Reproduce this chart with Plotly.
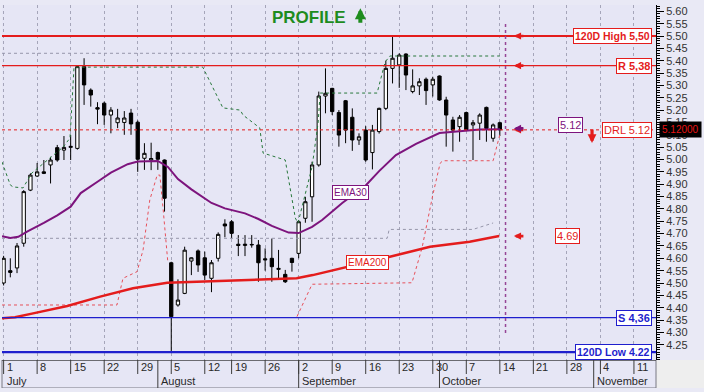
import plotly.graph_objects as go

W, H = 704, 392
FONT = "Liberation Sans, Arial, sans-serif"

# ---------------- data (trading-day index: 0 = 1 July) ----------------
day = list(range(75))
opens = [4.500, 4.550, 4.561, 4.661, 4.876, 4.933, 4.950, 4.978, 5.048, 5.038,
         5.049, 5.045, 5.376, 5.281, 5.210, 5.228, 5.180, 5.149, 5.150, 5.188,
         5.151, 5.005, 4.998, 5.028, 4.998, 4.582, 4.411, 4.458, 4.589, 4.630,
         4.602, 4.519, 4.600, 4.739, 4.748, 4.657, 4.652, 4.654, 4.654, 4.598,
         4.600, 4.555, 4.535, 4.600, 4.620, 4.762, 4.849, 4.978, 5.257, 5.288,
         5.190, 5.238, 5.171, 5.079, 5.119, 5.028, 5.113, 5.207, 5.369, 5.383,
         5.427, 5.275, 5.298, 5.325, 5.302, 5.338, 5.241, 5.160, 5.133, 5.190,
         5.140, 5.147, 5.211, 5.086, 5.149]
highs = [4.610, 4.600, 4.662, 4.876, 4.944, 4.986, 4.998, 5.011, 5.059, 5.095,
         5.099, 5.380, 5.410, 5.288, 5.232, 5.234, 5.212, 5.205, 5.196, 5.205,
         5.158, 5.066, 5.068, 5.032, 5.000, 4.586, 4.515, 4.647, 4.604, 4.636,
         4.627, 4.593, 4.705, 4.758, 4.755, 4.694, 4.694, 4.694, 4.674, 4.640,
         4.680, 4.634, 4.553, 4.602, 4.755, 4.849, 4.991, 5.275, 5.369, 5.290,
         5.200, 5.241, 5.207, 5.106, 5.135, 5.140, 5.210, 5.400, 5.497, 5.430,
         5.430, 5.365, 5.329, 5.332, 5.335, 5.340, 5.254, 5.173, 5.180, 5.194,
         5.160, 5.187, 5.214, 5.146, 5.153]
lows = [4.490, 4.523, 4.540, 4.647, 4.872, 4.929, 4.941, 4.903, 4.991, 4.998,
        4.998, 5.040, 5.221, 5.214, 5.143, 5.140, 5.106, 5.127, 5.100, 5.100,
        4.950, 4.958, 4.957, 4.958, 4.789, 4.222, 4.404, 4.455, 4.532, 4.545,
        4.512, 4.463, 4.587, 4.685, 4.681, 4.609, 4.609, 4.643, 4.505, 4.550,
        4.505, 4.520, 4.500, 4.546, 4.600, 4.744, 4.748, 4.971, 5.187, 5.180,
        5.052, 5.066, 5.035, 5.059, 4.991, 4.960, 5.105, 5.200, 5.308, 5.290,
        5.281, 5.268, 5.261, 5.221, 5.255, 5.238, 5.052, 5.032, 5.072, 5.115,
        4.998, 5.079, 5.072, 5.072, 5.095]
closes = [4.600, 4.543, 4.650, 4.870, 4.937, 4.950, 4.944, 4.998, 4.998, 5.049,
          5.053, 5.376, 5.302, 5.261, 5.204, 5.180, 5.200, 5.168, 5.168, 5.144,
          5.001, 5.025, 5.004, 5.001, 4.843, 4.364, 4.431, 4.633, 4.602, 4.573,
          4.532, 4.582, 4.697, 4.731, 4.701, 4.652, 4.657, 4.656, 4.582, 4.594,
          4.566, 4.559, 4.505, 4.583, 4.748, 4.829, 4.978, 5.257, 5.268, 5.194,
          5.099, 5.119, 5.079, 5.092, 4.998, 5.119, 5.207, 5.369, 5.410, 5.423,
          5.342, 5.298, 5.315, 5.279, 5.325, 5.241, 5.180, 5.119, 5.171, 5.120,
          5.149, 5.180, 5.126, 5.140, 5.120]

ema30_x = [-0.24, 1, 2.2, 3.5, 6, 8, 10, 11.5, 14, 16, 18.5, 20, 23, 24.5, 26, 28, 31, 33,
           36, 38, 40, 42.5, 44, 46, 47.5, 49, 50.5, 54, 56, 58.5, 61.5, 65, 68, 71, 74]
ema30_y = [4.689, 4.682, 4.687, 4.708, 4.743, 4.774, 4.809, 4.864, 4.910, 4.947, 4.981,
           4.992, 4.994, 4.970, 4.921, 4.879, 4.824, 4.802, 4.782, 4.759, 4.731, 4.704,
           4.702, 4.727, 4.755, 4.791, 4.824, 4.895, 4.953, 5.018, 5.063, 5.107, 5.113,
           5.121, 5.122]

ema200_x = [-0.24, 1.7, 4.4, 9.5, 14.4, 19.3, 24.4, 29.3, 35.3, 39.7, 43.7, 46.1, 51.2,
            57.6, 63.6, 69.5, 73.9]
ema200_y = [4.357, 4.361, 4.377, 4.407, 4.445, 4.479, 4.501, 4.505, 4.512, 4.516, 4.519,
            4.532, 4.564, 4.606, 4.647, 4.667, 4.690]

stop_hi_x = [-0.24, 1, 1.4, 2.9, 4.2, 6.5, 8.9, 9.9, 10.5, 29.7, 32.7, 35.3, 35.7, 38.2,
             38.7, 42, 43.5, 43.9, 44.9, 46, 46.9, 47.2, 55.7, 56.9, 57.6, 74]
stop_hi_y = [4.990, 4.897, 4.889, 4.885, 4.945, 4.998, 5.051, 5.087, 5.374, 5.374, 5.209,
             5.200, 5.180, 5.128, 5.026, 4.998, 4.763, 4.743, 4.848, 4.970, 5.148, 5.269,
             5.269, 5.395, 5.419, 5.419]

stop_lo_x = [-0.24, 16.9, 17.8, 19.9, 20.8, 21.8, 22.9, 23.3, 23.8, 24.4, 24.5, None,
             43.75, 46, 60.9, 62.4, 64, 65.1, 65.5, 73, 74.1]
stop_lo_y = [4.411, 4.411, 4.519, 4.546, 4.634, 4.836, 4.937, 4.937, 4.796, 4.613, 4.581,
             None, 4.364, 4.495, 4.501, 4.642, 4.856, 4.985, 4.995, 4.995, 5.111]

band_hi_x = [-0.24, 56.6]
band_hi_y = [5.430, 5.430]
band_lo_x = [-0.24, 57.2, 57.5, 70, 73]
band_lo_y = [4.681, 4.681, 4.717, 4.717, 4.743]

high_120d = 5.50
resist = 5.38
drl = 5.12
support = 4.36
low_120d = 4.22
ema30_last = 5.12
ema200_last = 4.69
last_price = 5.12

week_ticks = [0, 5, 10, 15, 20, 25, 30, 34, 39, 44, 49, 54, 59, 64, 69, 74, 79, 84, 89, 94]
week_labels = ['1', '8', '15', '22', '29', '5', '12', '19', '26', '2', '9', '16', '23',
               '30', '7', '14', '21', '28', '4', '11']
month_starts = [0, 23, 44, 65, 88]
month_names = ['July', 'August', 'September', 'October', 'November']

price_ticks = [4.25, 4.30, 4.35, 4.40, 4.45, 4.50, 4.55, 4.60, 4.65, 4.70, 4.75, 4.80,
               4.85, 4.90, 4.95, 5.00, 5.05, 5.10, 5.15, 5.20, 5.25, 5.30, 5.35, 5.40,
               5.45, 5.50, 5.55, 5.60]
price_labels = ['4.25', '4.30', '4.35', '4.40', '4.45', '4.50', '4.55', '4.60', '4.65',
                '4.70', '4.75', '4.80', '4.85', '4.90', '4.95', '5.00', '5.05', '5.10',
                '5.15', '5.20', '5.25', '5.30', '5.35', '5.40', '5.45', '5.50', '5.55',
                '5.60']

# ---------------- layout geometry ----------------
X_RANGE = [-0.24, 97.29]
Y_RANGE = [4.1883, 5.6255]
XDOM = [2 / W, 656 / W]
YDOM = [(H - 360) / H, (H - 5) / H]
BDOM = [(H - 388) / H, (H - 360) / H]

RED = 'rgb(228,28,28)'
BLUE = 'rgb(30,30,205)'
PURPLE = 'rgb(125,20,125)'
GREEN = 'rgb(40,120,60)'

fig = go.Figure()

fig.add_trace(go.Scatter(x=band_hi_x, y=band_hi_y, mode='lines',
                         line=dict(color='rgb(150,150,170)', width=1, dash='dot'),
                         hoverinfo='skip', showlegend=False))
fig.add_trace(go.Scatter(x=band_lo_x, y=band_lo_y, mode='lines',
                         line=dict(color='rgb(150,150,170)', width=1, dash='dot'),
                         hoverinfo='skip', showlegend=False))

fig.add_trace(go.Candlestick(
    x=day, open=opens, high=highs, low=lows, close=closes,
    increasing=dict(fillcolor='white', line=dict(color='black', width=1)),
    decreasing=dict(fillcolor='black', line=dict(color='black', width=1)),
    whiskerwidth=0, hoverinfo='skip', showlegend=False))

fig.add_trace(go.Scatter(x=stop_hi_x, y=stop_hi_y, mode='lines',
                         line=dict(color=GREEN, width=1, dash='dot'),
                         hoverinfo='skip', showlegend=False))
fig.add_trace(go.Scatter(x=stop_lo_x, y=stop_lo_y, mode='lines', connectgaps=False,
                         line=dict(color='rgb(230,80,90)', width=1, dash='dot'),
                         hoverinfo='skip', showlegend=False))
fig.add_trace(go.Scatter(x=ema200_x, y=ema200_y, mode='lines',
                         line=dict(color=RED, width=2.5),
                         hoverinfo='skip', showlegend=False))
fig.add_trace(go.Scatter(x=ema30_x, y=ema30_y, mode='lines',
                         line=dict(color=PURPLE, width=2),
                         hoverinfo='skip', showlegend=False))

# invisible trace to create the date band subplot
fig.add_trace(go.Scatter(x=[0], y=[0], xaxis='x2', yaxis='y2', mode='markers',
                         marker=dict(opacity=0), hoverinfo='skip', showlegend=False))

shapes = []
# horizontal levels
for val, col, w, dash in [(high_120d, RED, 2, 'solid'), (resist, RED, 1.3, 'solid'),
                          (drl, RED, 1, '3px,3px'), (support, BLUE, 1.2, 'solid'),
                          (low_120d, BLUE, 2.2, 'solid')]:
    shapes.append(dict(type='line', xref='x domain', yref='y', x0=0, x1=1, y0=val, y1=val,
                       line=dict(color=col, width=w, dash=dash)))
# future marker
shapes.append(dict(type='line', xref='x', yref='y', x0=74.85, x1=74.85, y0=4.298, y1=5.557,
                   line=dict(color='rgb(150,70,150)', width=1.5, dash='dot')))
# date band frame and separators
shapes.append(dict(type='rect', xref='x2 domain', yref='y2', x0=0, x1=1, y0=0, y1=2,
                   line=dict(color='rgb(120,120,130)', width=1)))
shapes.append(dict(type='line', xref='x2 domain', yref='y2', x0=0, x1=1, y0=2, y1=2,
                   line=dict(color='rgb(40,40,40)', width=1)))
for t in week_ticks:
    shapes.append(dict(type='line', xref='x2', yref='y2', x0=t, x1=t, y0=1, y1=2,
                       line=dict(color='rgb(60,60,60)', width=1)))
for m in month_starts[1:]:
    shapes.append(dict(type='line', xref='x2', yref='y2', x0=m, x1=m, y0=0, y1=2,
                       line=dict(color='rgb(60,60,60)', width=1)))
# grey corner under the price axis
shapes.append(dict(type='rect', xref='paper', yref='paper', x0=656 / W, x1=1,
                   y0=BDOM[0], y1=BDOM[1], fillcolor='rgb(238,238,238)', line=dict(width=0),
                   layer='below'))

ann = []


def box(text, x, y, col, bold=False, xref='x', xanchor='center', size=11, bg='white'):
    ann.append(dict(text=('<b>%s</b>' % text) if bold else text, x=x, y=y, xref=xref,
                    yref='y', xanchor=xanchor, yanchor='middle', showarrow=False,
                    font=dict(family=FONT, size=size, color=col), bgcolor=bg,
                    bordercolor=col, borderwidth=1, borderpad=1))


box('120D High 5,50', 0.9939, high_120d, RED, bold=True, xref='x domain', xanchor='right',
    size=10.5)
box('R 5,38', 0.9939, resist, RED, bold=True, xref='x domain', xanchor='right')
box('DRL 5.12', 0.9939, drl, RED, xref='x domain', xanchor='right', size=11)
box('S 4,36', 0.9939, support, BLUE, bold=True, xref='x domain', xanchor='right')
box('120D Low 4.22', 0.9939, low_120d, BLUE, bold=True, xref='x domain', xanchor='right',
    size=10.5)
box('%.2f' % ema30_last, 84.5, 5.140, PURPLE)
box('%.2f' % ema200_last, 84.1, ema200_last, RED)
box('EMA30', 51.66, 4.868, PURPLE, size=10)
box('EMA200', 54.34, 4.585, RED, size=10)

# current price flag
ann.append(dict(text='%.5f' % last_price, x=680.5 / W, y=last_price, xref='paper', yref='y',
                xanchor='center', yanchor='middle', showarrow=False,
                font=dict(family=FONT, size=10, color='rgb(230,20,20)'), bgcolor='black',
                borderpad=2))

# small left-pointing arrows at the future marker
for val, col in [(high_120d, RED), (resist, RED), (drl, RED), (ema200_last, RED)]:
    ann.append(dict(text='', x=76.1, y=val, xref='x', yref='y', ax=11, ay=0,
                    showarrow=True, arrowhead=2, arrowsize=0.55, arrowwidth=2.6,
                    arrowcolor=col))
ann.append(dict(text='', x=76.1, y=ema30_last + 0.006, xref='x', yref='y', ax=11, ay=0,
                showarrow=True, arrowhead=2, arrowsize=0.55, arrowwidth=2.6,
                arrowcolor=PURPLE))
# down arrow next to DRL
ann.append(dict(text='', x=87.75, y=5.067, xref='x', yref='y', ax=0, ay=-15,
                showarrow=True, arrowhead=2, arrowsize=0.55, arrowwidth=3.2, arrowcolor=RED))

# PROFILE title with green up arrow
ann.append(dict(text='<b>PROFILE</b>', x=309 / W, y=(H - 17) / H, xref='paper', yref='paper',
                xanchor='center', yanchor='middle', showarrow=False,
                font=dict(family=FONT, size=17, color='rgb(30,140,30)')))
ann.append(dict(text='', x=53.2, y=5.612, xref='x', yref='y', ax=0, ay=16,
                showarrow=True, arrowhead=2, arrowsize=0.55, arrowwidth=4,
                arrowcolor='rgb(30,140,30)'))

# date band labels
for t, lab in zip(week_ticks, week_labels):
    ann.append(dict(text=lab, x=t, y=1.5, xref='x2', yref='y2', xanchor='left',
                    yanchor='middle', xshift=1, showarrow=False,
                    font=dict(family=FONT, size=11, color='rgb(40,40,40)')))
for m, lab in zip(month_starts, month_names):
    ann.append(dict(text=lab, x=m, y=0.5, xref='x2', yref='y2', xanchor='left',
                    yanchor='middle', xshift=1, showarrow=False,
                    font=dict(family=FONT, size=11, color='rgb(40,40,40)')))

fig.update_layout(
    width=W, height=H, margin=dict(l=0, r=0, t=0, b=0),
    paper_bgcolor='rgb(233,233,245)', plot_bgcolor='rgb(230,230,245)',
    showlegend=False, shapes=shapes, annotations=ann,
    xaxis=dict(domain=XDOM, range=X_RANGE, tickmode='array', tickvals=week_ticks,
               showticklabels=False, ticks='', showgrid=True,
               gridcolor='rgb(165,165,185)', griddash='dot', gridwidth=1,
               zeroline=False, rangeslider=dict(visible=False), anchor='y'),
    yaxis=dict(domain=YDOM, range=Y_RANGE, side='right', anchor='x', showgrid=False,
               zeroline=False, showline=True, linecolor='black', linewidth=1,
               tickmode='array', tickvals=price_ticks, ticktext=price_labels,
               ticks='outside', ticklen=7, tickcolor='black',
               tickfont=dict(family=FONT, size=11, color='rgb(50,50,50)'),
               minor=dict(tickmode='linear', tick0=0, dtick=0.01, ticks='outside',
                          ticklen=3, tickcolor='black', showgrid=False)),
    xaxis2=dict(domain=XDOM, matches='x', anchor='y2', showticklabels=False, ticks='',
                showgrid=False, zeroline=False),
    yaxis2=dict(domain=BDOM, range=[0, 2], anchor='x2', showticklabels=False, ticks='',
                showgrid=False, zeroline=False),
)

fig.write_html('out.html')
